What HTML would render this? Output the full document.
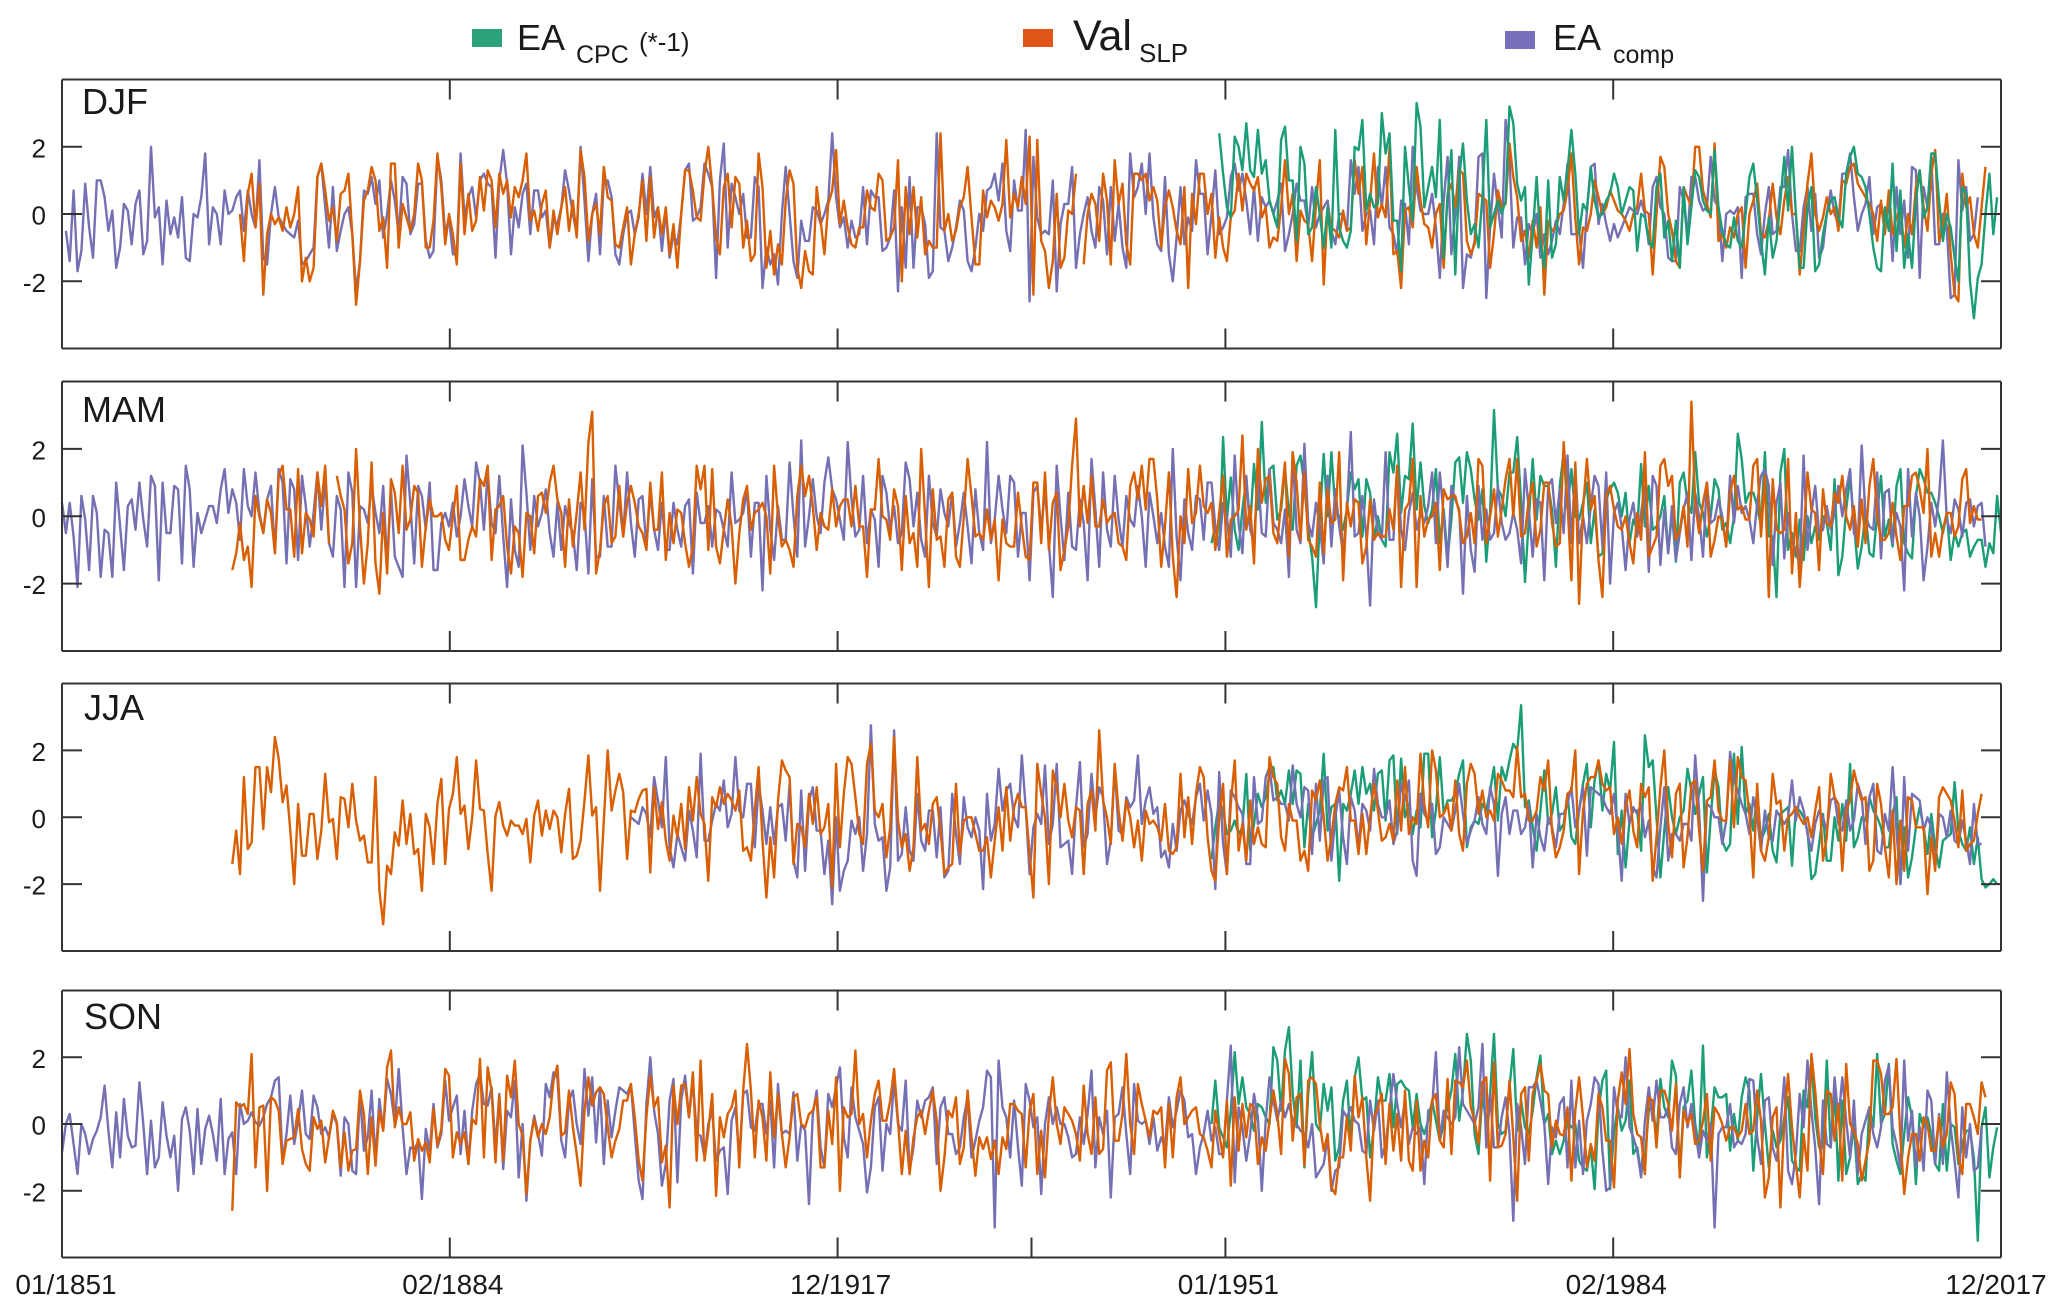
<!DOCTYPE html>
<html lang="en">
<head>
<meta charset="utf-8">
<title>EA index seasonal time series</title>
<style>
html,body{margin:0;padding:0;background:#fff;}
svg{display:block;font-family:"Liberation Sans",Arial,sans-serif;fill:#1a1a1a;}
</style>
</head>
<body>
<svg id="chart" xmlns="http://www.w3.org/2000/svg" width="2067" height="1313" viewBox="0 0 2067 1313">
<rect x="0" y="0" width="2067" height="1313" fill="#fff"/>
<g id="plots"></g>
<g>
<g>
<rect x="472" y="29" width="30" height="18" fill="#2ca27b"/>
<text x="517" y="50" font-size="36">EA</text>
<text x="576" y="63" font-size="25">CPC</text>
<text x="639" y="51" font-size="26">(*-1)</text>
</g>
<g>
<rect x="1023" y="29" width="30" height="18" fill="#e0541a"/>
<text x="1073" y="50" font-size="43">Val</text>
<text x="1139" y="62" font-size="26">SLP</text>
</g>
<g>
<rect x="1505" y="31" width="30" height="18" fill="#7570b9"/>
<text x="1553" y="50" font-size="36">EA</text>
<text x="1613" y="63" font-size="25">comp</text>
</g>
</g>
<text x="82" y="114" font-size="36">DJF</text>
<text x="82" y="422" font-size="36">MAM</text>
<text x="84" y="720" font-size="36">JJA</text>
<text x="84" y="1029" font-size="36">SON</text>
</svg>
<script>
const yTickValues=[-2,0,2];
const xTickMonths=[0,100.2,200.4,300.6,400.8,501];
const xTickLabels=["01/1851","02/1884","12/1917","01/1951","02/1984","12/2017"];
const totalMonths=501;

const djfCompStart=1;
const djfComp=[-.5,-1.4,.7,-1.7,-1.1,.9,-.4,-1.3,1,1,.5,-.5,.1,-1.6,-1,.3,.1,-.9,.3,.7,-1.2,-.8,2,-.1,.2,-1.5,.4,-.6,-.1,-.7,.5,-1.3,-1.4,0,-.1,.5,1.8,-.9,.2,0,-.9,.7,0,.1,.5,.7,
-.5,.7,0,-.4,1.6,-1.3,-1.5,0,.8,-.1,-.3,-.5,-.6,-.7,-.2,-1.5,-1.4,-1.2,-1,1.1,1.5,.2,-1,.8,-1.1,-.5,0,.2,-.6,-2.3,-1.4,.7,.6,1.1,.3,1,-.7,0,1,.4,-.6,1.1,.9,-.6,-.3,.9,.9,-.8,-1.3,-1.1,1.7,1,-.6,-.1,-1.2,-1.2,1.8,-.1,.5,.8,-.1,1,1.2,.9,.8,-1.3,1,1.9,.9,-1.2,.2,-.4,.6,.9,-.6,.7,.7,-.1,.1,-1,-.2,-.3,.2,1.3,.7,0,-.6,2,.4,-1.4,0,.6,-1.2,1,1,.5,-1.2,-1.5,-.6,0,.1,-.6,-.1,1.2,0,1.4,-.1,.2,-1.1,.1,-1.3,-.6,-.9,0,1.3,1.5,-.2,-.1,
.2,1.5,1.2,.8,-1.9,1,2.1,-1,.9,.5,0,.6,-.7,-.7,1.1,.8,-2.2,-1,-1.5,-1.2,-2.1,0,1.4,0,-1.4,-1.9,-.2,-.8,-.8,.2,.1,-.3,0,.4,2.4,.5,-.4,-.1,-1,-.2,-.7,-.6,.8,-.9,.7,.5,.5,-1.1,-1,-.7,.7,-2.3,.2,-1.6,1.1,-1.6,.2,.2,-.3,-1.9,-1.7,2.4,-.4,-.5,-1.4,-1,-.4,.4,.1,-1.4,-1.7,-1,0,-.5,.7,.8,1.2,.4,1.5,-.5,-1.1,1,.1,.1,2.5,-2.6,1.7,-.1,-.6,-.5,-.6,1,-2.3,-.3,.3,.3,1.4,-1.6,-.6,0,.5,-.5,-1,.8,.4,-1.2,.8,-.8,.3,-1,-1.6,1.8,.5,.8,1.5,0,1.8,-.1,-.9,-1.1,1.1,-1.2,-2,-.7,.8,-.9,-.1,-.5,1.6,.6,.6,-1.2,
0,1.3,-.6,-.4,-.1,1.1,1.5,.7,1.2,.4,-.6,.8,-.8,.5,.2,.4,0,.4,.9,-1.1,-.6,0,.9,.4,.4,-.4,.8,-.4,0,.2,.4,-.5,-.9,0,0,-.5,1.6,.6,1.4,-.5,0,.1,-.9,1.4,.2,1.4,-.4,-.6,-1.2,.4,.3,-.9,2,.8,.1,0,0,.6,-.4,-1.9,.4,1.7,-1.2,0,1.7,-2.2,-1.2,-1.3,-.8,1.7,1.8,-2.5,-.4,1.2,.2,-.7,2.8,1.6,-1,-.1,-.1,-1.5,-.3,-.6,0,-1.3,-.6,-1.2,-.8,-.2,-.6,.3,1.5,-.6,-.6,-.5,-1.6,.1,1.4,1.5,-.3,.3,-.3,-.8,-.3,-.7,-.4,-.1,.2,.1,0,.4,0,-.9,.8,1.1,.2,0,-1.3,-1.4,-1.4,.8,.4,-.7,1.1,1.1,.4,.1,.2,1.7,.4,.2,-1.4,0,.1,0,.2,-1.9,.5,.6,.6,-.6,-1.2,0,.8,-.6,-.5,.8,.8,1.9,0,-1.1,-1.1,.2,.8,-.5,.6,-1.3,-1,0,.7,0,-.3,1.2,1.2,1.8,.5,-.5,0,.3,1.1,-.6,.2,.3,-.5,.4,-1.4,.8,-.6,.4,-1.3,1.4,1.3,-1.9,.8,.2,1.7,-.9,-.9,0,-.4,-2.5,-2.4,1.6,.1,.8,-.8,-.6,.5];
const djfValStart=46;
const djfVal=[0,-1.4,.6,1.2,-.4,.9,-2.4,-.6,0,-.3,-.1,-.5,.2,-.4,0,.8,-2,-1.3,-2,-1.6,1.1,1.5,.7,-.2,.2,-.8,.6,.7,1.2,-.6,-2.7,-1.4,.4,.7,1.4,1,-.5,-.1,-1.6,1.5,1.5,-1,.3,-.1,-.5,0,1.5,1,-1,-1,-.2,1.8,.8,-.9,0,-.6,-1.5,1.5,-.6,.6,-.5,-.2,1.1,.1,1.3,1,-.4,1.2,.6,1,-.1,.8,.5,1,1.8,-.2,.1,-.5,.3,.7,-1,.1,-.6,.2,.8,-.5,.4,-.7,1.9,1.1,-.8,0,.3,-.6,1.4,.5,.4,-.9,-1,-.4,.2,-1.5,-.6,0,1,-.8,1.1,-.7,.2,-.6,.2,-1.2,-.3,-1.6,0,1.3,1.3,.7,-.1,
-.2,1.2,2,.8,-.7,-1.2,.8,1.2,-.4,1.1,.9,-1,-.2,-1.4,-1.2,1.8,.8,-1.6,-.5,-1.8,-.9,-1.5,.4,1.3,.9,-1.6,-2.2,-1.1,-1.7,-1.8,.8,-.2,-1.2,.3,.7,1.9,-.3,.4,-.4,-.9,-1,-.4,-.4,.7,.2,.1,1.2,1,-.8,-.7,-.4,1.6,-2,.8,-.6,.8,-.7,.5,-1.2,-.8,-1,-1,2.4,-.5,0,-.8,-.5,.2,.5,1.4,-.1,-1.5,-1.5,.7,-.1,.4,.2,-.2,.3,2.2,-.1,.6,.2,1.1,.3,2.3,-2.4,2.2,-.8,-1.1,-2.2,-1.4,.6,-1.6,-1.3,.1,0,1.2,null,-1.5,0,.6,.3,-.8,1.2,.4,-1.5,1.6,.3,.9,-.9,-1.5,1.2,1.2,1,1.2,.4,.8,.4,-1,.2,.7,.2,-.5,-.9,.8,-2.2,.6,-.3,1.2,1.2,0,.6,
-1.3,-.1,-1,-1.4,-.1,.1,1.2,.1,1.2,.9,.7,1.1,-.1,.2,-1,-.7,-.8,.2,1.6,0,.6,-1.4,.1,-.2,-.3,-1.4,.3,1.6,-2.1,.2,-.4,-.5,-.7,.1,-.5,-.4,1.6,.6,1.4,-.9,.4,1.8,-.1,.3,-.1,2,-1.2,-1.1,-2.2,.1,.2,-.4,1.4,.4,-.3,-.4,-1,0,.3,-1.6,.6,.9,.2,1.3,1.2,-.8,-1.2,-.9,.6,.5,.4,-1.6,-.6,.7,.2,.3,2.1,1.1,.5,-.8,-.5,-1.3,-.2,-1,.2,-2.4,-.2,-.5,-.4,0,.1,.7,1.8,-.1,-1.5,-.4,-.5,0,1,.5,0,.2,.7,.4,.1,0,-.2,-.5,0,.2,1.2,.1,0,-1.8,0,1.7,1.4,0,-.5,-1.4,-1.6,.8,.5,.2,2,2,.7,.3,-.1,2.1,-.8,-.6,-1,-.4,-.7,0,.2,-1.6,0,.4,.9,-.6,-.7,-.2,.9,-.1,-.6,.4,1.1,0,0,-1.8,-.5,.9,1.8,0,-.5,-.1,.5,0,.2,-.5,1,.9,1.4,1.5,.9,.7,.5,.3,0,-.8,.4,-.6,.7,-.6,-.1,.2,-1,0,-.6,.8,1.3,.2,-.5,1.2,1.9,-.8,-.4,.6,-1.2,-2.4,-2.6,1.2,.2,.5,-.6,-1,.2,1.4];
const djfCpcStart=299;
const djfCpc=[2.4,1.2,.2,-.1,2.3,2,1.3,2.7,1.3,1.1,2.5,1.2,1.6,.4,0,-.4,2.2,2.6,1,1,-.8,2,1.5,-.6,-.4,.8,0,-1,.2,-1,2.5,-.4,-.8,-1,-.5,2,1.9,2.8,.1,.6,.2,.3,3,1.8,2.4,-.2,-.2,-1.7,2,.8,-.2,3.3,2.6,.2,.8,1.4,.5,2.8,-1.3,.5,1.9,-1.8,1.1,2.1,.4,-.6,-.3,-1,.5,2.8,-.4,0,.4,0,.4,3.2,2.7,.9,.4,.8,-2.1,-.6,1.1,-.8,-1.6,1,-1.3,-.9,1.1,.4,1.3,2.5,1.2,-.6,.3,.1,1.4,.4,-.1,0,.4,.6,1.2,.8,0,.4,.8,.7,-1.1,0,-.1,-.8,-1,.8,1.2,-.7,-.2,-1.4,-.2,-1.6,.8,-.9,.2,1.3,1.1,.4,.1,0,1.9,.2,-.5,-.9,-1,-.1,-.8,-1,0,1.1,1.5,.4,-.8,-1.8,-.1,-1.3,-.8,.4,1.7,.1,2,0,-1.6,-1.6,.2,.8,-1.7,-1.5,-.6,0,.4,.5,-.1,-.4,1.2,1.7,2,1.2,1.1,.8,0,-1,-1.6,-1.7,.2,-.5,1.5,-1.1,.7,-1.6,-.6,-1.6,.4,1.3,-.1,.2,1.8,1.8,.4,-.8,0,-.4,-1.3,-2,.8,.6,-2,-3.1,-1.9,-1.5,0,1.2,-.6,.5];

const mamCompStart=0;
const mamComp=[.4,-.5,.4,-.6,-2.1,.6,-.1,-1.6,.6,.1,-1.8,-.4,-.5,-1.8,1,-.3,-1.6,.3,.5,-.4,1,-.1,-.9,1.2,.9,-1.9,1,-.5,-.5,.9,.8,-1.4,1.5,.8,-1.5,.1,-.5,-.1,.3,.3,-.2,.8,1.4,.1,.8,.4,-.7,1.4,.3,0,1.3,.1,-.5,.5,.9,-1.1,1.4,1,-1.4,1.1,.8,-1.3,1.2,.3,-.9,.1,1.3,-.4,1.1,-.8,-1.2,.6,.2,-2.1,1.3,.7,-2.1,.3,.2,-.2,.9,.1,-.5,.9,-1.4,.8,-1.2,-1.5,-1.8,1.8,.4,-1.4,.9,.6,-.4,1,-1.6,-1.6,-.2,.1,-.3,.4,-.6,0,1.1,.3,-.3,1.6,1,-.4,1.3,-.2,-.5,1.2,-.6,-2.1,.5,-1,-1.5,2.1,.7,-1,.6,-.3,.1,.8,-.5,-1.2,.4,-1,.3,-.2,-.5,-1.6,.4,.1,-1.7,1.1,-1.2,-1.2,.6,-.9,-.9,1.5,.4,-.6,1.3,-.2,-1.2,.5,.6,-.9,.7,-.4,-1,.4,-1,-1,.4,-.4,-.9,.3,.5,-1.7,.7,
-.2,-.2,.3,-.9,.2,.1,-.4,-.9,1.3,-.2,-.1,.1,.8,-1.2,.4,.4,-2.2,1.2,-.4,-1.3,.3,-.7,-.7,1.6,0,-1.2,2.25,-.9,0,1.1,0,-.5,1,1.75,.8,.5,-.1,-.7,2.2,.5,-.6,-.4,1.2,-.8,.2,-.1,-1.5,1.2,.7,-.4,.3,-.8,-.5,1.6,1.1,-.3,.7,-.7,-1.2,1.2,-.2,-.6,.8,.1,-.3,.7,-.9,-.2,.7,-.3,-1.4,.8,-.5,-1,2.2,-.8,-.1,1.2,.2,-.5,1.2,1,-1.2,.1,.1,-1.9,.7,.9,-.4,.8,-.8,-2.4,1.5,0,-1.3,.7,-.9,-1,.5,-.2,-1.9,1.7,.2,-1.5,1.3,-.4,-.9,1.2,-.1,-.9,.6,-.1,-.3,.9,0,-1.5,.7,0,-.8,.1,-.9,-1.5,2,-.6,-1.9,.5,-.5,-1,.6,.5,-.7,1,
1,-.3,-1,.4,0,-1.2,1.8,-.2,-1.1,1.2,-.4,-.8,1.3,-.5,-.6,1.4,-.2,-.4,-.8,.2,-1.8,1.9,-.4,-.8,2.15,-.2,-.6,.4,-.3,-1.4,1.2,-.9,.8,-.3,-1.1,.2,2.5,-.6,-.5,.6,-.6,-2.65,.5,-.5,-.7,1.9,-.7,-.7,1.5,-.4,-1,.1,.7,-.4,.1,-.2,.3,1.3,-.8,1.3,0,-1.5,.9,.5,.2,-2.3,.6,-1,-1.65,.9,-.7,.2,-.7,-.5,.9,-.2,-.7,-.5,.1,-.4,-1.4,1.4,.2,-1.2,.5,.4,-1.9,.9,1.1,-.2,.8,-.5,1.8,-.8,1.5,-.8,0,-.8,.3,1.2,.9,-.9,1.3,-2,.1,.4,-.3,-1.6,-.1,.4,-.6,.1,.9,-1.65,1.2,.9,-1.45,.2,-1.1,.3,-1.3,-.5,.2,.7,-1.3,.7,0,-1.2,1,-.2,-.1,.5,0,-.9,1.2,-.2,.9,.1,.3,-.1,-.8,.4,1.2,1.4,.9,-1.45,.4,1,-1.25,.1,-.8,-1,-1.5,1.8,-1,.1,.9,-.5,-.4,.3,-.4,.1,.9,0,.8,1.4,-.5,-.8,2.1,0,-.3,-.4,1.3,-1.25,.7,.8,-.8,.1,-.3,-2.2,1.4,-.6,.7,0,-1.9,-.9,.4,-.3,.6,2.25,-.1,-.5,.5,.2,-.6,.4,.5,-.3,.3,.4,-.9];
const mamValStart=44;
const mamVal=[-1.6,-1.1,-.2,-1.3,-.9,-2.1,.6,0,-.5,.5,.1,-1.1,1.2,1.5,.2,.2,-1.2,1.4,-1.1,.1,-.1,-.6,1.3,.3,1.5,-.8,null,1.2,.6,.2,-1.4,-.8,2,-.3,-2,-.8,1.6,-1.4,-2.3,.1,-1.7,1.1,.7,-.5,1.5,-.4,-.1,.9,.7,-1.5,-.3,.5,0,0,.1,-.7,-1,0,.9,-1.3,-1.3,-.7,-.3,-.6,1.1,.9,1.5,-1.3,.2,.3,.6,-.9,-1.7,-.3,-.5,-1.8,.1,0,-1.1,.6,.7,.1,1,1.5,.5,.1,-1.5,.5,-.9,.1,1.3,-.4,2.2,3.1,-1.7,-1,.3,.6,-.8,-.6,.9,-.6,.4,.9,.4,-.3,-.5,-1,1,-.4,-.4,1.3,-1.3,.1,-.8,.2,.1,-.8,-1.5,-.9,1.5,.8,
1.5,-1,1.4,-.9,-1.4,-.4,.5,-.3,-2,-.5,.5,.9,-.4,.1,.2,.4,0,-1.7,1.5,0,-.9,-.7,-1,-1.5,.6,1.5,.6,1.2,.3,-1,.1,-.3,-.4,.8,-.3,.3,.5,.5,-.3,.9,-.3,-.3,-1.8,.2,.2,1.7,0,-.1,-.7,.8,.3,-1.6,.6,-.8,-.5,-1.5,2,0,-2.1,.8,-.7,-.6,-1.5,.5,.7,-1.2,-1.5,0,1.7,.6,-.6,-.5,-.7,.2,-.7,-.1,-1.9,-.1,-.8,-.9,-.9,.7,-.3,-1.2,-1.3,1,1,-.8,1.3,-1,.4,.7,-1.6,-1,-.3,1.5,2.9,-.3,.9,-.2,1.2,-.3,-.3,.5,-.2,0,.1,-.8,-.9,-1.3,.9,1.3,.5,1.5,.2,1.7,1.7,.5,-1.5,-.3,1.3,-1.2,-2.4,0,-.8,1.4,-.2,.1,1.5,.3,.1,.4,
-1,.1,1.2,-1.2,-.1,0,.2,2.4,-.4,.3,-1.4,2,.4,1.1,1.2,-.5,-.8,.4,1.6,-1.2,1.9,1,-.7,1.3,-.7,-.9,-1.2,1,-1.1,.8,-.2,-.1,1.9,-1.9,.4,-.3,.5,.4,-1.4,-.9,.5,-.7,-.5,-.6,-.6,.2,-.4,1.5,-2.1,.2,.4,1.7,-2.1,.6,-.6,-.1,0,.4,-1.6,.8,.5,.6,.6,.1,-.8,-.6,.1,-.8,1.7,1.5,-.8,0,.8,-.6,.2,1.1,1.7,0,1.7,-.6,-.5,.5,1,-.9,-.4,1,1,-.2,-.9,-.8,2.2,.4,-1.9,1.6,-2.6,.2,1.7,.2,.6,-1.3,-2.4,.6,.9,.2,-.3,-.4,0,-.8,-1.4,.1,-.7,1.9,-1.2,-.9,-.6,1.5,1.7,.9,1.2,-.7,-.4,.3,-.9,3.4,.4,-.5,.4,1,-1.2,-.7,0,-.1,-.9,.7,1.2,.2,.3,-.1,-.1,1.5,1.7,-.6,1.2,-2.4,1.1,-.4,-.5,-.4,1.7,-1.7,.1,-2.1,-.6,1.3,.2,.1,-1.6,.8,-.2,-.3,.7,.4,1.2,0,-.4,.3,-.9,.5,-.8,.9,1.7,0,-.7,-.7,-.5,.4,-.6,-1.3,.3,.3,1.2,1.3,.8,.1,2,-1.2,-.5,-1.2,-.4,.1,.1,-.6,-.3,1.1,1.4,-.2,.3,-.1,-.1];
const mamCpcStart=297;
const mamCpc=[-.8,-.3,-1,2.35,-.1,1.15,-.4,-1,.2,1.1,-.3,1.55,.2,2.8,.4,1.4,1.5,-.1,.2,1.4,.1,-.4,1.5,1.8,.9,-.4,-1.2,-2.7,-.1,1.85,0,1.9,.2,0,-.4,.2,1.3,.8,1.1,-.6,1.1,.7,-.7,0,-.7,-.9,1.9,1.3,2.45,.1,1.2,1.1,2.75,.2,1.6,.3,-.2,.2,1.4,-.8,.2,-1.25,-.1,1.6,1.75,.4,1.9,1.4,.5,-.1,.8,-1.35,.1,3.15,.8,.6,0,1.3,1.3,2.35,.4,-1.95,-.1,1.7,-.1,1.2,.9,.9,.2,-1.5,.9,1.9,.2,1.4,0,-.1,.4,1,-.8,.2,-1.2,-1.1,.5,.8,1,.7,0,.7,-.8,-.1,-.4,1.55,-.3,.9,-.4,-.3,0,.6,-1.1,.1,-1.35,1,1.3,.4,.1,1.9,.4,.1,-.6,0,1.1,.8,-.4,-.2,-.8,0,2.45,1.7,.4,.7,.7,.3,-.3,1.9,-.6,-.6,-2.4,1.3,2,-1,-.5,-1.2,-.1,-1.3,0,-.8,-.3,-.7,0,-.2,-1,1.1,-1.75,-1.2,.2,1.2,-.2,-1.55,-.9,.1,-1.1,-1.2,.1,1.2,-.6,-.1,-.9,.9,1.4,-.8,-1.1,-1.25,.6,1.4,1.1,.7,.7,.4,0,-.5,.1,-1.3,-.5,-.9,-.5,-.4,-1.2,-.9,-.7,-.7,-1.5,-.8,-1.1,.6,-.5];

const jjaCompStart=147;
const jjaComp=[0,-.1,-.2,.3,.1,-.6,1.2,.5,-.3,1.8,-.9,-1.5,-.5,-.9,-1.3,.2,-.4,-1.2,1.9,
-.7,-.7,-.1,.4,.2,1.1,-.3,.1,1.8,.2,0,1,1,-.9,1,.2,-.8,.3,-.8,.3,.4,-.7,1,-1.3,-1.8,.8,-1.6,.5,.9,-.4,-.4,-1.7,-.7,-2.6,0,-2.2,-1.6,-1.3,-.1,-.5,0,-1.6,-.5,2.75,-.2,-.7,-.6,-2.2,-1.5,2.6,-1.3,-1.1,.3,-1,-1.3,.7,-.7,-1,.2,.2,-1.2,.3,-1.8,-1.6,.7,-.5,-1.4,.6,-.3,-.6,0,-.4,-2.15,.7,-.7,-.2,1.45,.2,.8,1,0,-.3,1.85,.3,-1.7,-.3,.1,-.2,1.55,-.8,-.2,1.6,-.9,-.8,-.7,-1.7,.3,1.65,-.9,-.5,1.3,0,.9,.6,-1.4,-.7,1.5,-.4,-.5,.6,.3,.5,1.85,-.2,.5,.9,.1,.3,-1.2,-1,-1.5,-.2,-1,.2,.5,.1,-.2,.6,1,-.1,.8,.1,
-2.15,1.35,-.8,-1.7,.8,.6,.3,.1,-1.4,-1.4,1.2,-.2,-.1,1.2,1.5,.5,.6,.4,.4,-.1,1.55,.4,0,.9,.8,-1.1,1,-.7,1.1,1.2,-1.3,0,.8,-.6,-1.4,.6,.2,-.9,.4,.2,-.4,1.45,.4,0,0,.5,-.8,-.4,1,.5,1.1,-1.3,-1.75,.7,.1,-.1,.4,-1.1,-.9,0,-.2,-.4,.2,1,.1,-.8,-.4,-.1,.6,-.2,-.5,.9,.4,-1.75,.1,.6,-.5,.2,.2,-.5,-.3,.4,-1.5,.1,-.6,-1,0,-.3,-.9,.1,.1,.4,.9,-.3,.2,.9,-1.15,.9,.8,.7,.6,.3,.1,.7,-.4,-1.9,.7,-.2,.3,.1,.4,-.6,-.1,-1.5,-1.8,-.3,.9,-1.3,-.5,-.5,-.7,-.2,-.2,-.7,1.85,.2,-2.5,.4,.3,0,0,-.8,-.1,1.95,1.1,.8,.4,.1,-.5,.6,0,-1,.2,-.6,-.7,.2,0,-.2,0,1.1,-.1,.6,.2,-.5,-1,-.2,.2,0,-.4,.5,.6,-.2,-.4,.5,-.4,-.1,1,.6,-.8,.6,1,-1,-1.1,.1,-.4,1.5,-.4,-2,1.2,-1,.7,.6,.5,-.4,0,-.3,-1.5,.1,0,-.6,.2,-.7,-.8,-.1,-.7,-1.4,.4,-.8,-.8];
const jjaValStart=44;
const jjaVal=[-1.4,-.4,-1.7,1.2,-.95,-.75,1.5,1.5,-.35,1.5,.75,2.4,1.75,.45,.95,-.4,-2,.4,-1.15,-1.15,.1,.1,-1.25,-.4,1.3,-.15,-.05,-1.25,.6,.55,-.3,1,-.1,-.7,-.55,-1.35,-1.35,1.2,-2.2,-3.2,-1.45,-1.7,-.45,-.85,.5,-.8,.1,-1.1,-.95,-2.2,.1,-.3,-1.4,.4,1.15,-1.4,.25,.7,1.8,.1,.35,-.95,0,1.7,.25,.2,-1.1,-2.2,.05,.45,-.25,-.55,-.1,-.25,-.25,-.5,-.05,-1.35,.05,.5,-.55,.2,-.35,.2,0,-1.05,.1,.85,-1.25,-1.15,-.7,.5,1.85,.05,.3,-2.2,-.1,2,.2,.8,1.3,.75,-1.25,.2,.15,.55,.8,.85,-1.65,.9,-.35,.45,-.7,-1.3,.05,-.6,.4,-.95,.9,-.1,1.2,
.1,-.2,-1.9,.6,.3,.9,.4,.7,.5,.2,.8,-1,-.9,-1.3,.2,1.5,-.7,-2.4,-.6,-1.8,.5,1.7,1.4,1.2,-1.4,-.2,-.3,-.9,.7,-.2,.9,-.5,-.3,.4,-2.1,1.6,-.9,.7,1.8,1.6,.6,-.5,-.8,1.6,2.2,.2,0,.4,-1.2,-.3,2.4,-.1,-.9,-.5,-1.6,-.9,1.8,-.4,-.2,-.8,.4,.6,-.4,-1.7,-1.5,-1.4,1,-1.1,-.1,0,0,-.5,-1,-1,-.6,-1.8,-.7,.3,-1,.9,-.7,.3,.7,.3,.3,-1.1,-2.4,1.6,.7,0,-2,1.4,.9,0,1,-.1,-.6,.3,.2,-1.7,.4,.8,-.4,2.6,.5,0,-.8,1.6,.2,-.7,.5,0,-.9,-.1,-1.3,.2,-.2,-.1,-.3,-.7,.4,-1,-1.1,-.9,1.3,-.6,.6,-.8,.7,1.5,1.2,-.6,
-1.6,-1.9,0,1,-1.7,.4,1.7,-1,-.2,-1.3,.5,-.8,-.3,-.8,-.9,1.8,1.2,1,-.6,-1,.4,-.1,-.1,-1.3,-1,-1.6,.8,.5,1.1,0,-1.3,-.6,.4,.9,.8,1.5,-.1,-.1,-1.1,.1,-1.1,0,1,.2,-.7,-.6,-.2,-.7,1.1,-.4,1.5,-.5,0,-.2,1.9,.4,-.3,2,1.4,0,.1,.4,-.4,1.1,-.5,-1,1,1.6,1.3,.1,.8,0,.2,-.1,1.3,1.1,.8,.8,.6,2.1,.6,.7,-.1,-.1,.2,1.2,.8,1.7,-.4,-1.2,-.9,-.4,.7,.8,2,-1.7,.2,1,1.2,1.2,1.7,1,.8,.9,-.5,0,-.8,.3,.8,-.4,-.9,1,.6,.9,-1.9,-.6,.9,2,-.2,-1.2,.7,1,-1.5,-.6,1,1.1,-.4,-1.6,.5,.6,1.7,.2,-.1,-.1,1.7,-.3,1.8,1.2,1.1,.1,-1.8,1,-1,-1.3,-.6,1.3,.4,.5,-1,0,.1,.3,0,-.2,0,-.6,.2,.9,-1.3,-.6,1.3,.6,.4,-1.6,.2,.5,1.4,.9,.5,.6,-1.6,-1.3,1,.4,-.9,-1.8,.2,-2,-.1,-1.6,.6,.5,-.3,-.3,-.3,-2.3,-.6,-1.6,.6,.9,.7,.5,-.1,-.9,.8,-1,-.8,-.7,.1,.7];
const jjaCpcStart=297;
const jjaCpc=[-1.25,-.3,.5,.2,-.5,-.4,-.1,-.5,-.3,1.3,-1,-.2,.7,.3,.6,1.3,1.5,.5,.8,.4,1.4,.4,1.4,1.3,-.9,.4,-.6,-.2,.2,1.9,-.4,.3,.4,-1.9,.4,.2,.7,1.4,.4,1.5,.7,1,.2,1.3,1.4,-.1,1.7,1.85,-.5,1.75,0,.4,-.5,.2,-.3,1.9,1.9,-.6,.2,1.8,.1,.5,.5,.7,1.3,1.7,-.9,-.3,-.1,-.2,.4,.2,.8,1.5,-.1,1.5,1.1,1.7,2.2,2,3.35,.3,.5,-.3,-1,.2,1.4,-.2,.1,.9,-.4,-.2,.7,-.6,-.8,.2,1,1.6,-.3,1.1,1.7,.2,1.3,.8,2.25,-1.1,.2,-1.5,-.1,.2,.2,-1,2.45,1.5,1.7,0,-1.8,-.4,.9,0,-.5,0,.2,1.45,.8,.1,.7,1.2,-1.65,0,1.4,.9,-.7,-1,-.8,1.9,-.2,2.1,.1,.4,-.4,.8,-.7,-.4,.1,-1,-1.35,.1,.2,.3,-1.45,.3,.2,0,-.4,-1.85,-1.7,-.8,.1,-1.3,-1.3,0,-.7,.4,-.7,1.6,-.9,-.6,0,-.1,.6,.2,0,-.3,-.9,-.9,.1,.6,-2,-.3,-1.8,-1.2,-.3,.3,-.3,-1.1,.1,-.9,-1.5,-.7,-.6,-.5,1.05,-.4,-.8,-1,-.3,-1.4,-.6,-1.85,-2.1,-2,-1.85,-2];

const sonCompStart=0;
const sonComp=[-.85,0,.3,-.6,-1.5,0,-.3,-.9,-.45,-.2,.2,1.15,-.2,-1.3,.35,-1,.75,-.35,-.7,-.65,1.25,0,-1.5,.1,-1.3,-1,.65,-.35,-1,-.35,-2,.15,.5,-.2,-1.5,.45,-1.2,-.15,.25,-.3,-1.1,.75,-1.5,-.45,-.25,-1.5,.6,0,.1,.35,.05,-.05,.2,.6,.8,1.3,1.4,-1.1,-.3,.85,-.6,.1,1,-.3,-.45,.85,.5,-.3,-.1,-.4,.3,0,-1.55,.2,0,-1.4,-1.5,.9,-.8,-.4,1,-1.1,.75,-.2,1.35,.9,0,1.65,-.1,-1.5,-.7,-.75,-.55,-2.25,-.15,-.8,.6,-.7,-.3,1.3,.1,.5,.85,-.9,.4,-1.2,.4,1.2,1.5,.6,.55,1.1,-.7,.9,-1.35,.4,.2,1.3,-1.6,0,-2.3,-.5,.25,-.3,-.95,1.2,.8,1.55,1.4,-.5,-1,.7,1,0,-.6,1.65,.25,1.4,-.55,1.1,-1.2,.7,-.4,.4,1.1,1,.9,1.2,-.3,-1.7,-2.25,.6,2,.4,-.3,-1.85,-1.2,.7,1.35,-1.75,.7,1.45,.2,1.3,-.3,-.35,
-1,0,.4,-1.1,-.8,-.7,-2.1,.1,.5,-1,.9,1,-.1,-.2,.6,.6,-.3,.7,-1.3,1.2,-.3,-.2,-.3,.95,-1.1,0,-.2,-2.4,.3,1,-.7,-1.3,.9,.5,1.1,1.7,-.4,-1,1.1,.2,-.2,-.6,-2.05,-1.3,.5,.8,-1.4,0,-.3,1.3,0,-.2,1.3,-1.4,-.7,.7,.2,.7,.8,1.1,-1.2,.5,.8,-.3,-.3,-.9,-.7,.2,.8,-1,-.5,.1,.5,1.6,1.4,-3.1,1.9,.5,.2,-1,.7,-.7,-1.85,1.2,.7,-.1,.2,-2.1,0,.8,0,.5,0,0,-.4,-1,-.9,.2,-.6,.3,1.6,-1.3,.2,-.3,.4,-2.2,.2,.3,1.1,-.3,-1.5,1.2,.1,0,.1,-.6,.2,-.8,-.4,-.7,.8,-.1,.4,1,.7,-.4,-.3,-1.5,-.7,-.3,.4,
-.5,-.1,-.9,-.9,.7,2.35,-1.75,.5,-.1,-1.1,-.3,.9,.2,-2,.1,1.4,.7,.1,.7,.2,.6,.1,0,-.2,-.3,-.7,0,-1.6,-1.4,-1.2,-.4,-2,-1.4,-1.3,.4,.2,.5,.1,0,-.8,-.9,.7,-.2,.7,-1,-.6,.4,1.5,.6,-.1,.7,-.6,-.1,-.3,-.1,-1.8,.4,.5,2.15,-.5,.4,.2,0,.2,2.3,.6,.4,.2,0,.5,2.4,-.7,.9,-.7,-.7,.2,.8,-.3,-2.9,.6,-.1,-1.2,1.1,1.1,1.3,.7,0,-1.8,-.1,-.4,.6,.8,-1.3,1.3,-1.3,.1,-1.5,.1,.6,1.4,1.2,-.8,-2,-1.9,1.1,.3,.2,2,-.1,-.4,-.8,-1.6,.1,1.1,.1,1.3,.2,.2,.5,-.7,-.9,.6,1.1,-.1,.6,-.2,-1,-.2,-.5,0,-3.1,-.3,-.1,-.1,.6,-.7,-.5,-.6,-.3,1.35,1.3,-.4,-1.2,.7,.8,-.7,-1.1,-.1,1.4,-1.4,-1.8,-.9,.9,-.1,1.9,.4,-.7,-2.4,.7,-.6,-.7,1.4,.1,1.4,.1,-1,.7,-1.5,-.3,.1,.5,-.3,-.7,-.1,1.3,1.75,-.1,-.6,-1.3,1.9,-.5,.4,-1.3,-.1,-1.4,1,.7,-1.2,.3,-1.2,1.55,-.1,-1.1,-2.2,.5,-1,0,-1.4,-1.3,-.1];
const sonValStart=44;
const sonVal=[-2.6,.65,.5,.6,.3,2.1,-1.3,.5,.55,-2,.8,.7,.4,-1.2,-.5,-.45,-.4,.45,-.75,-1.2,-1.4,.2,-.15,.1,-1.15,-.4,.4,.05,-1.3,-.25,-1.4,-.8,-.75,1,.3,-1.5,.2,-1.25,.4,-.2,1.7,2.2,-.1,.5,0,0,.35,-1.1,-.45,-.8,-.55,-1.15,.45,-.65,-.15,1.65,1.45,-1,-.25,-.6,-.25,-1.2,.15,0,1.95,-1,1.7,1,-1.15,.85,-1.1,1.45,.8,1.9,0,-.35,-2.1,-.5,.15,-.4,0,-.3,.2,1.3,1.75,-.35,-.25,1,-.1,-.9,-1.85,.4,1.4,.55,.95,1.1,.9,-.1,-1,-.5,-.15,.7,.7,1.2,.2,-1.1,-1.7,.2,1.45,.5,.8,-1.15,-.65,-2.5,1.15,0,1.15,1.2,.2,1.55,-1.1,1.9,
-1.1,-.2,.9,-2.15,.2,-.4,.3,.5,1,-1.3,1,2.4,1,-1,.7,.2,-1.1,1.55,-.4,.9,-.3,-1.3,-.4,.8,.9,0,-.1,.3,.4,.8,-1.3,-1.3,.4,-.6,1.4,-2,.5,.2,.3,2.2,0,.3,-1,.1,.9,1.3,.1,.1,.7,1.65,.1,-1.5,-.2,-1.5,-.4,.2,.4,-.3,.4,1,.1,-2,-1,.4,.2,.8,-1.2,-.7,1,-.4,-1.55,-.4,-.75,-.4,-1.05,-.5,-1.5,-.4,-.75,.6,.6,.4,.3,-1.3,.4,.9,-1.5,-.2,-1.6,.3,1.4,0,-.6,.5,.3,.1,-.3,-1.1,1.15,-.3,-.9,.8,-.9,-.75,1.6,1.85,-.5,-.5,.3,2.1,0,-.9,1.2,.6,.1,-.4,.4,.3,.5,-1.3,.6,-1,.8,1.4,0,.2,.4,.5,-.3,-.4,-.8,-1.3,
.4,-.3,-1,.7,-1.85,.8,-.8,.6,-.4,.6,.5,-1.2,-.4,-.8,.1,1,.3,-.9,1.95,1.5,-.5,.8,.9,-1.25,1.3,1.4,1.2,0,-.8,-.3,-1.9,-2.1,-1,-1,.2,-.8,1.45,.2,.8,-1,-2.3,.2,.5,.9,-1.2,.6,-.8,.3,-1.1,1,-1.1,-1.4,.7,-1.4,-.5,-1,.7,.9,-.5,-.7,1.35,-.9,1.3,1.25,1.1,1.9,.5,.1,-.6,1.25,1.4,-1.7,1.85,-.7,-.65,-.3,1.3,-.4,-2.3,.9,1.1,-1.1,.9,1.3,1.8,1,.9,-.7,.1,-.3,-.35,.5,-1.7,.4,1.4,.2,-1.3,-.6,-1.1,.9,.5,-.5,-.5,-1.9,.7,1.55,.6,2.25,.3,-.3,-.4,-1.5,.8,.7,-.7,1,1,.6,-.2,1.2,-1.6,.4,0,.3,-.6,-.5,.1,.9,-1.1,.5,.3,0,-.5,-.1,-.1,-.4,-.2,.6,-.3,-.2,1,.1,-2.2,-1.6,.2,.5,-2.5,.1,1.5,-.1,-1.2,-2.2,-.3,-1.4,2.1,1,-.5,-1.5,1,.9,-.5,.6,-1.7,1.8,0,-.2,-.6,-1.7,-1.1,-.5,1.9,1.9,1.5,.3,.3,.5,1.95,-.4,-2.1,-1,-.3,-.3,-1.1,.2,0,-.8,-.8,.2,-.7,-.3,1.25,.9,-1,-1.5,.6,.6,.2,-.3,1.25,.8];
const sonCpcStart=297;
const sonCpc=[0,1.3,-.1,-.4,-.7,.4,2.15,.6,1.4,.5,.3,-.2,.6,.5,.2,0,2.3,1.9,.4,2.2,2.9,.9,-.1,1.9,-1.3,.9,2.15,0,-.2,1.2,.4,1.1,-1.1,-.7,.7,1.3,-.5,1.4,2,.7,.8,-1,-.1,1.4,.7,.7,1.5,-.1,1.2,1.3,1.1,1,-.1,.9,0,-.3,.1,.7,.1,-.5,0,.5,1,2.1,.1,1,2.7,1.9,-.3,-.9,.9,0,.9,2.7,0,-.3,-.2,1.1,2.25,-.2,.7,-.1,-.3,.4,1.4,2.05,0,.3,-.9,-.5,-.9,-.5,.1,-.1,0,-1.1,-1.3,-1.4,-.7,-1.95,.4,1.3,1.6,-1.95,-.2,.5,-.2,.1,1.3,-.9,-.7,-1.5,-1,.4,.6,-.4,1.35,.5,.2,1.9,1.45,-1.5,.5,.7,1.6,0,-.7,2.35,-1,-.2,1.1,.8,.8,.9,-.8,.3,-.5,.8,1.4,1,-1.4,.2,1.5,0,-1.3,-.2,-.7,-.5,.2,.8,-1.1,-1.3,-1.4,1,.5,1.9,.2,-.7,-.7,1.9,-.7,1,-1.7,.7,-1.5,-1,0,-1.8,-1.5,-1.7,.5,-.1,2.1,0,.3,1.8,-.6,-1.1,-1.5,-.3,.8,.2,-1.8,.3,-.1,.2,-.3,-1.2,-1.4,.6,-1.4,0,-.1,-1.2,-.6,-.2,-.2,-1,-3.5,-.1,.5,-1.6,-.7,-.1];

const svgNS="http://www.w3.org/2000/svg";
const plots=document.getElementById("plots");
const plotLeft=62,plotRight=2001;
const panels=[
 {key:"djf",top:79.5,bottom:348.5,order:["comp","val","cpc"],comp:djfComp,compStart:djfCompStart,val:djfVal,valStart:djfValStart,cpc:djfCpc,cpcStart:djfCpcStart},
 {key:"mam",top:381.5,bottom:651,order:["cpc","comp","val"],comp:mamComp,compStart:mamCompStart,val:mamVal,valStart:mamValStart,cpc:mamCpc,cpcStart:mamCpcStart},
 {key:"jja",top:683.5,bottom:951,order:["cpc","comp","val"],comp:jjaComp,compStart:jjaCompStart,val:jjaVal,valStart:jjaValStart,cpc:jjaCpc,cpcStart:jjaCpcStart},
 {key:"son",top:990.5,bottom:1257.5,order:["cpc","comp","val"],comp:sonComp,compStart:sonCompStart,val:sonVal,valStart:sonValStart,cpc:sonCpc,cpcStart:sonCpcStart}
];
const seriesColor={comp:"#7570b3",val:"#d95f02",cpc:"#1b9e77"};

function xScale(month){return plotLeft+month*(plotRight-plotLeft)/totalMonths;}
function yScale(panel,value){const unit=(panel.bottom-panel.top)/8;return (panel.top+panel.bottom)/2-value*unit;}

function addLine(parent,name,x1,y1,x2,y2,w){
 const el=document.createElementNS(svgNS,"line");
 
 
 el.setAttribute("x1",x1);el.setAttribute("y1",y1);el.setAttribute("x2",x2);el.setAttribute("y2",y2);
 el.setAttribute("stroke","#333");el.setAttribute("stroke-width",w);
 parent.appendChild(el);
}
function addText(parent,name,x,y,size,anchor,str){
 const el=document.createElementNS(svgNS,"text");
 
 
 el.setAttribute("x",x);el.setAttribute("y",y);el.setAttribute("font-size",size);el.setAttribute("text-anchor",anchor);
 el.textContent=str;
 parent.appendChild(el);
}
function drawSeries(parent,panel,name,values,start,color){
 let d="",pen=false;
 values.forEach(function(v,i){
  if(v===null){pen=false;return;}
  d+=(pen?"L":"M")+xScale(start+i).toFixed(1)+" "+yScale(panel,v).toFixed(1);
  pen=true;
 });
 const el=document.createElementNS(svgNS,"path");
 
 
 el.setAttribute("d",d);el.setAttribute("fill","none");el.setAttribute("stroke",color);
 el.setAttribute("stroke-width","2.4");el.setAttribute("stroke-linejoin","round");
 parent.appendChild(el);
}

panels.forEach(function(panel,pi){
 const g=document.createElementNS(svgNS,"g");
 
 
 plots.appendChild(g);
 panel.order.forEach(function(s){
  drawSeries(g,panel,panel.key+'-'+s+'-line',panel[s],panel[s+"Start"],seriesColor[s]);
 });
 addLine(g,panel.key+'-axis-top',plotLeft,panel.top,plotRight,panel.top,2);
 addLine(g,panel.key+'-axis-bottom',plotLeft,panel.bottom,plotRight,panel.bottom,2);
 addLine(g,panel.key+'-axis-left',plotLeft,panel.top,plotLeft,panel.bottom,2);
 addLine(g,panel.key+'-axis-right',plotRight,panel.top,plotRight,panel.bottom,2);
 yTickValues.forEach(function(v){
  const y=yScale(panel,v);
  addLine(g,panel.key+'-y-tick-left',plotLeft,y,plotLeft+20,y,2);
  addLine(g,panel.key+'-y-tick-right',plotRight-20,y,plotRight,y,2);
  addText(g,panel.key+'-y-tick-label',46,y+10.5,26,"end",String(v));
 });
 xTickMonths.slice(1,-1).forEach(function(m){
  const x=xScale(m);
  addLine(g,panel.key+'-x-tick-top',x,panel.top,x,panel.top+20,2);
  addLine(g,panel.key+'-x-tick-bottom',x,panel.bottom-20,x,panel.bottom,2);
 });
 if(panel.key==="son"){
  const xm=xScale((xTickMonths[2]+xTickMonths[3])/2);
  addLine(g,'son-x-minor-tick',xm,panel.bottom-20,xm,panel.bottom,2);
  xTickLabels.forEach(function(label,i){
   const x=i===0?66:(i===xTickLabels.length-1?1996:xScale(xTickMonths[i])+3);
   addText(g,'x-tick-label',x,1294,28,"middle",label);
  });
 }
});
</script>
</body>
</html>
